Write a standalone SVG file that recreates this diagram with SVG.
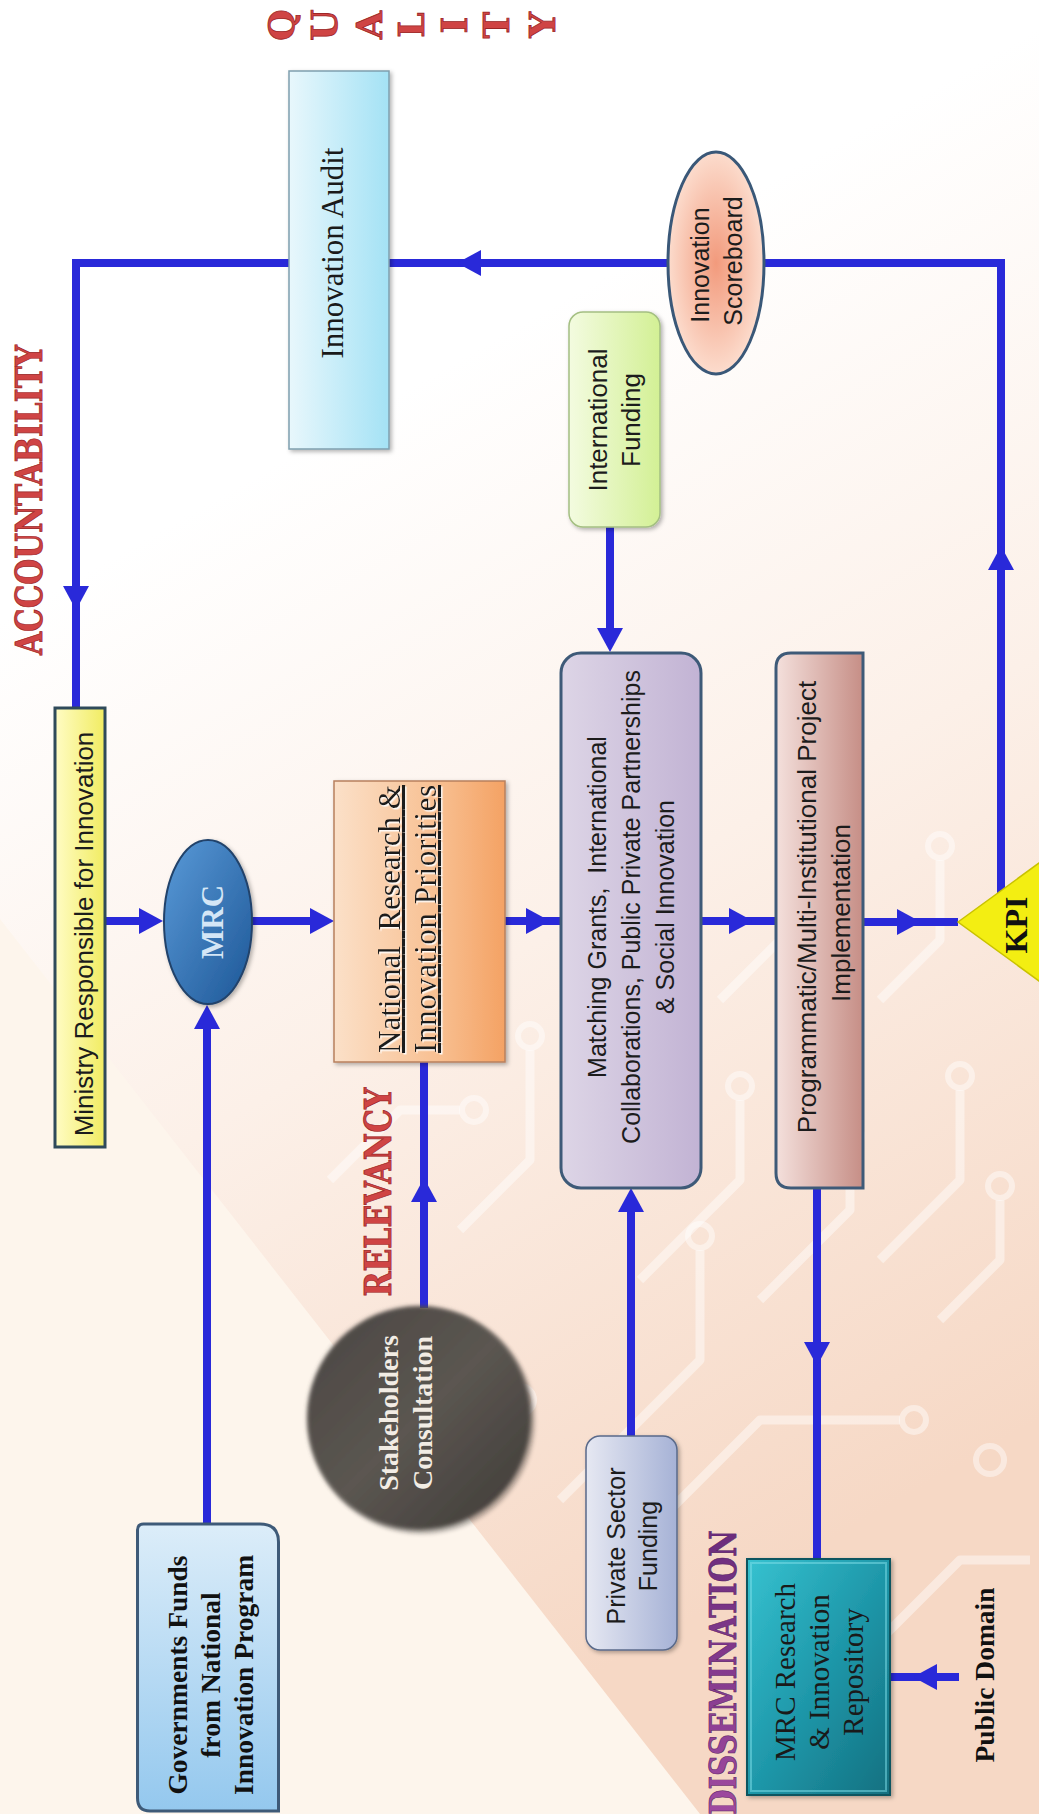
<svg xmlns="http://www.w3.org/2000/svg" width="1039" height="1814" viewBox="0 0 1039 1814">
<style>
.sans{font-family:"Liberation Sans",Arial,sans-serif;fill:#1c1c1c}
.serif{font-family:"Liberation Serif","Times New Roman",serif;fill:#1a1a1a}
.bserif{font-family:"Liberation Serif","Times New Roman",serif;font-weight:bold}
.slab{font-family:"DejaVu Serif","Liberation Serif",serif;font-weight:bold}
.red{fill:#cf4444;stroke:#9c2626;stroke-width:0.8}
.conn{stroke:#2929d9;stroke-width:8;fill:none}
.ah{fill:#2929d9}
.trace{stroke:#ffffff;stroke-opacity:0.45;stroke-width:9;fill:none;stroke-linejoin:round}
.ring{stroke:#ffffff;stroke-opacity:0.45;stroke-width:6;fill:none}
</style>
<defs>
<linearGradient id="bg" gradientUnits="userSpaceOnUse" x1="300" y1="450" x2="900" y2="1500">
<stop offset="0" stop-color="#ffffff"/>
<stop offset="0.45" stop-color="#fcf0e8"/>
<stop offset="1" stop-color="#f6d8c5"/>
</linearGradient>
<linearGradient id="gAudit" x1="0" y1="0" x2="1" y2="0"><stop offset="0" stop-color="#e8f7fc"/><stop offset="1" stop-color="#a4e2f5"/></linearGradient>
<radialGradient id="gScore" cx="0.5" cy="0.5" r="0.5"><stop offset="0" stop-color="#f29a7c"/><stop offset="1" stop-color="#fcdccd"/></radialGradient>
<linearGradient id="gIntl" x1="0" y1="0" x2="1" y2="0"><stop offset="0" stop-color="#f3fbe0"/><stop offset="1" stop-color="#d3f095"/></linearGradient>
<linearGradient id="gMin" x1="0" y1="0" x2="1" y2="0"><stop offset="0" stop-color="#fffcc4"/><stop offset="1" stop-color="#f1ec62"/></linearGradient>
<linearGradient id="gMrc" x1="0" y1="0" x2="1" y2="1"><stop offset="0" stop-color="#5a9ad8"/><stop offset="1" stop-color="#1d5797"/></linearGradient>
<linearGradient id="gNat" x1="0" y1="0" x2="1" y2="0"><stop offset="0" stop-color="#fbe0c8"/><stop offset="0.6" stop-color="#f8c092"/><stop offset="1" stop-color="#f4a264"/></linearGradient>
<linearGradient id="gMatch" x1="0" y1="0" x2="1" y2="0"><stop offset="0" stop-color="#ddd5e6"/><stop offset="1" stop-color="#c2b3d4"/></linearGradient>
<linearGradient id="gProg" x1="0" y1="0" x2="1" y2="0"><stop offset="0" stop-color="#f4e0dc"/><stop offset="1" stop-color="#c68e86"/></linearGradient>
<linearGradient id="gGov" x1="0" y1="0" x2="0" y2="1"><stop offset="0" stop-color="#dcedf9"/><stop offset="1" stop-color="#94c8ee"/></linearGradient>
<linearGradient id="gStake" x1="0" y1="0" x2="1" y2="1"><stop offset="0" stop-color="#4a4642"/><stop offset="0.5" stop-color="#5b5651"/><stop offset="1" stop-color="#3e3a36"/></linearGradient>
<linearGradient id="gPriv" x1="0" y1="0" x2="1" y2="0"><stop offset="0" stop-color="#e6e8f2"/><stop offset="1" stop-color="#a6b2d6"/></linearGradient>
<linearGradient id="gRepo" x1="0" y1="0" x2="1" y2="1"><stop offset="0" stop-color="#36c2d0"/><stop offset="0.5" stop-color="#1f98aa"/><stop offset="1" stop-color="#137080"/></linearGradient>
<linearGradient id="gDis" x1="0" y1="0" x2="1" y2="0"><stop offset="0" stop-color="#a04aa0"/><stop offset="1" stop-color="#6a2c7c"/></linearGradient>
<filter id="sh" x="-20%" y="-20%" width="140%" height="140%"><feDropShadow dx="2" dy="2" stdDeviation="2" flood-color="#000" flood-opacity="0.3"/></filter>
<filter id="soft" x="-20%" y="-20%" width="140%" height="140%"><feGaussianBlur stdDeviation="2"/></filter>
<filter id="emb" x="-10%" y="-10%" width="120%" height="120%"><feDropShadow dx="1.5" dy="1.5" stdDeviation="0.3" flood-color="#ffffff" flood-opacity="0.9"/></filter>
<polygon id="ah" points="-24,-13 0,0 -24,13"/>
</defs>

<g id="background">
<rect x="0" y="0" width="1039" height="1814" fill="url(#bg)"/>
<polygon points="0,919 700,1814 0,1814" fill="#fdf5ec"/>
<path class="trace" d="M560,1500 L700,1360 L700,1250"/><circle class="ring" cx="700" cy="1236" r="12"/>
<path class="trace" d="M620,1560 L760,1420 L900,1420"/><circle class="ring" cx="914" cy="1420" r="12"/>
<path class="trace" d="M880,1260 L960,1180 L960,1090"/><circle class="ring" cx="960" cy="1076" r="12"/>
<path class="trace" d="M760,1300 L850,1210 L850,1150"/><circle class="ring" cx="850" cy="1136" r="12"/>
<path class="trace" d="M640,1280 L740,1180 L740,1100"/><circle class="ring" cx="740" cy="1086" r="12"/>
<path class="trace" d="M330,1180 L400,1110 L460,1110"/><circle class="ring" cx="474" cy="1110" r="12"/>
<path class="trace" d="M460,1230 L530,1160 L530,1050"/><circle class="ring" cx="530" cy="1036" r="12"/>
<path class="trace" d="M880,1640 L960,1560 L1030,1560"/>
<path class="trace" d="M940,1320 L1000,1260 L1000,1200"/><circle class="ring" cx="1000" cy="1186" r="12"/>
<path class="trace" d="M720,1000 L800,920 L800,860"/><circle class="ring" cx="800" cy="846" r="12"/>
<path class="trace" d="M880,1000 L940,940 L940,860"/><circle class="ring" cx="940" cy="846" r="12"/>
<path class="trace" d="M760,1760 L840,1680 L840,1600"/>
<circle class="ring" cx="520" cy="1400" r="14"/>
<circle class="ring" cx="990" cy="1460" r="14"/>
</g>

<g id="labels">
<text class="slab red" font-size="37" textLength="310" lengthAdjust="spacingAndGlyphs" transform="translate(42,500) rotate(-90)" text-anchor="middle">ACCOUNTABILITY</text>
<text class="slab red" font-size="37" textLength="209" lengthAdjust="spacingAndGlyphs" transform="translate(391,1192) rotate(-90)" text-anchor="middle">RELEVANCY</text>
<text class="slab" fill="url(#gDis)" stroke="#55205f" stroke-width="0.6" font-size="37" textLength="285" lengthAdjust="spacingAndGlyphs" transform="translate(736,1815) rotate(-90)">DISSEMINATION</text>
<g class="slab red" font-size="36" text-anchor="middle">
<text transform="translate(294,25) rotate(-90)">Q</text>
<text transform="translate(337,25) rotate(-90)">U</text>
<text transform="translate(382,25) rotate(-90)">A</text>
<text transform="translate(424,25) rotate(-90)">L</text>
<text transform="translate(467,25) rotate(-90)">I</text>
<text transform="translate(509,25) rotate(-90)">T</text>
<text transform="translate(555,25) rotate(-90)">Y</text>
</g>
</g>

<g id="connectors">
<path class="conn" d="M668,263 L389,263"/>
<use href="#ah" class="ah" transform="translate(457,263) rotate(180)"/>
<path class="conn" d="M289,263 L76,263 L76,708"/>
<use href="#ah" class="ah" transform="translate(76,610) rotate(90)"/>
<path class="conn" d="M1001,893 L1001,263 L764,263"/>
<use href="#ah" class="ah" transform="translate(1001,546) rotate(-90)"/>
<path class="conn" d="M105,921 L155,921"/>
<use href="#ah" class="ah" transform="translate(163,921)"/>
<path class="conn" d="M252,921 L326,921"/>
<use href="#ah" class="ah" transform="translate(334,921)"/>
<path class="conn" d="M505,921 L561,921"/>
<use href="#ah" class="ah" transform="translate(550,921)"/>
<path class="conn" d="M701,921 L776,921"/>
<use href="#ah" class="ah" transform="translate(753,921)"/>
<path class="conn" d="M863,922 L958,922"/>
<use href="#ah" class="ah" transform="translate(921,922)"/>
<path class="conn" d="M610,527 L610,643"/>
<use href="#ah" class="ah" transform="translate(610,652) rotate(90)"/>
<path class="conn" d="M207,1524 L207,1013"/>
<use href="#ah" class="ah" transform="translate(207,1005) rotate(-90)"/>
<path class="conn" d="M424,1308 L424,1062"/>
<use href="#ah" class="ah" transform="translate(424,1178) rotate(-90)"/>
<path class="conn" d="M631,1436 L631,1196"/>
<use href="#ah" class="ah" transform="translate(631,1188) rotate(-90)"/>
<path class="conn" d="M817,1188 L817,1559"/>
<use href="#ah" class="ah" transform="translate(817,1366) rotate(90)"/>
<path class="conn" d="M959,1677 L890,1677"/>
<use href="#ah" class="ah" transform="translate(913,1677) rotate(180)"/>
</g>

<g id="innovation-audit">
<rect x="289" y="71" width="100" height="378" fill="url(#gAudit)" stroke="#7f9fae" stroke-width="1.5" filter="url(#sh)"/>
<text class="serif" font-size="31" text-anchor="middle" transform="translate(343,253) rotate(-90)">Innovation Audit</text>
</g>

<g id="innovation-scoreboard">
<ellipse cx="716" cy="263" rx="48" ry="111" fill="url(#gScore)" stroke="#3a5878" stroke-width="3"/>
<text class="sans" font-size="25" text-anchor="middle" transform="translate(709,265) rotate(-90)">Innovation</text>
<text class="sans" font-size="25" text-anchor="middle" transform="translate(742,261) rotate(-90)">Scoreboard</text>
</g>

<g id="international-funding">
<rect x="569" y="312" width="91" height="215" rx="14" fill="url(#gIntl)" stroke="#a4bf82" stroke-width="1.5" filter="url(#sh)"/>
<text class="sans" font-size="26" text-anchor="middle" transform="translate(607,420) rotate(-90)">International</text>
<text class="sans" font-size="26" text-anchor="middle" transform="translate(640,420) rotate(-90)">Funding</text>
</g>

<g id="ministry">
<rect x="55" y="708" width="50" height="439" fill="url(#gMin)" stroke="#2f4a5a" stroke-width="3"/>
<text class="sans" font-size="26" text-anchor="middle" transform="translate(93,934) rotate(-90)">Ministry Responsible for Innovation</text>
</g>

<g id="mrc">
<ellipse cx="208" cy="922" rx="44" ry="82" fill="url(#gMrc)" stroke="#21436b" stroke-width="2" filter="url(#sh)"/>
<text class="bserif" fill="#d4e6f6" font-size="31" text-anchor="middle" transform="translate(223,922) rotate(-90)">MRC</text>
</g>

<g id="national-priorities">
<rect x="334" y="781" width="171" height="281" fill="url(#gNat)" stroke="#b8805e" stroke-width="1.5" filter="url(#sh)"/>
<g filter="url(#emb)">
<text class="serif" fill="#2a2a2a" font-size="31" text-decoration="underline" text-anchor="middle" textLength="268" lengthAdjust="spacing" style="white-space:pre" transform="translate(400,919) rotate(-90)">National  Research &amp;</text>
<text class="serif" fill="#2a2a2a" font-size="31" text-decoration="underline" text-anchor="middle" textLength="268" lengthAdjust="spacing" transform="translate(436,919) rotate(-90)">Innovation Priorities</text>
</g>
</g>

<g id="matching-grants">
<rect x="561" y="653" width="140" height="535" rx="20" fill="url(#gMatch)" stroke="#3e5a78" stroke-width="3"/>
<text class="sans" font-size="25" text-anchor="middle" style="white-space:pre" transform="translate(606,907) rotate(-90)">Matching Grants,  International</text>
<text class="sans" font-size="25" text-anchor="middle" transform="translate(640,907) rotate(-90)">Collaborations, Public Private Partnerships</text>
<text class="sans" font-size="25" text-anchor="middle" transform="translate(674,907) rotate(-90)">&amp; Social Innovation</text>
</g>

<g id="programmatic">
<path d="M776,668 Q776,653 791,653 L863,653 L863,1188 L791,1188 Q776,1188 776,1173 Z" fill="url(#gProg)" stroke="#3e5a78" stroke-width="3"/>
<text class="sans" font-size="26" text-anchor="middle" transform="translate(816,907) rotate(-90)">Programmatic/Multi-Institutional Project</text>
<text class="sans" font-size="26" text-anchor="middle" transform="translate(850,913) rotate(-90)">Implementation</text>
</g>

<g id="kpi">
<polygon points="958,922 1072,839 1072,1005" fill="#f3ee12" stroke="#c9c200" stroke-width="1.5"/>
<text class="bserif" fill="#111" font-size="32" text-anchor="middle" transform="translate(1027,925) rotate(-90)">KPI</text>
</g>

<g id="government-funds">
<path d="M137.5,1530 Q137.5,1524 143.5,1524 L260,1524 Q278.5,1524 278.5,1542 L278.5,1811 L150,1811 Q137.5,1811 137.5,1798 Z" fill="url(#gGov)" stroke="#3e5a78" stroke-width="3"/>
<text class="bserif" fill="#111" font-size="27.5" text-anchor="middle" transform="translate(187,1675) rotate(-90)">Governments Funds</text>
<text class="bserif" fill="#111" font-size="27.5" text-anchor="middle" transform="translate(220,1675) rotate(-90)">from National</text>
<text class="bserif" fill="#111" font-size="27.5" text-anchor="middle" transform="translate(253,1675) rotate(-90)">Innovation Program</text>
</g>

<g id="stakeholders">
<circle cx="422" cy="1421" r="113" fill="#000" opacity="0.25" filter="url(#soft)"/>
<circle cx="419" cy="1418" r="112" fill="url(#gStake)" filter="url(#soft)"/>
<text class="bserif" fill="#f2ece4" font-size="28" text-anchor="middle" transform="translate(398,1413) rotate(-90)">Stakeholders</text>
<text class="bserif" fill="#f2ece4" font-size="28" text-anchor="middle" transform="translate(432,1413) rotate(-90)">Consultation</text>
</g>

<g id="private-sector">
<rect x="586" y="1436" width="91" height="214" rx="14" fill="url(#gPriv)" stroke="#5a6a8a" stroke-width="1.5" filter="url(#sh)"/>
<text class="sans" font-size="25" text-anchor="middle" transform="translate(625,1546) rotate(-90)">Private Sector</text>
<text class="sans" font-size="25" text-anchor="middle" transform="translate(657,1546) rotate(-90)">Funding</text>
</g>

<g id="repository">
<rect x="747" y="1559" width="143" height="236" fill="url(#gRepo)" stroke="#0e5560" stroke-width="2" filter="url(#sh)"/>
<rect x="751" y="1563" width="135" height="228" fill="none" stroke="#7fe0ea" stroke-opacity="0.5" stroke-width="2"/>
<text class="serif" fill="#d8ef4a" font-size="29" text-anchor="middle" transform="translate(795,1672) rotate(-90)">MRC Research</text>
<text class="serif" fill="#d8ef4a" font-size="29" text-anchor="middle" transform="translate(829,1672) rotate(-90)">&amp; Innovation</text>
<text class="serif" fill="#d8ef4a" font-size="29" text-anchor="middle" transform="translate(863,1672) rotate(-90)">Repository</text>
</g>

<g id="public-domain">
<text class="bserif" fill="#111" font-size="27.5" text-anchor="middle" transform="translate(994,1675) rotate(-90)">Public Domain</text>
</g>
</svg>
